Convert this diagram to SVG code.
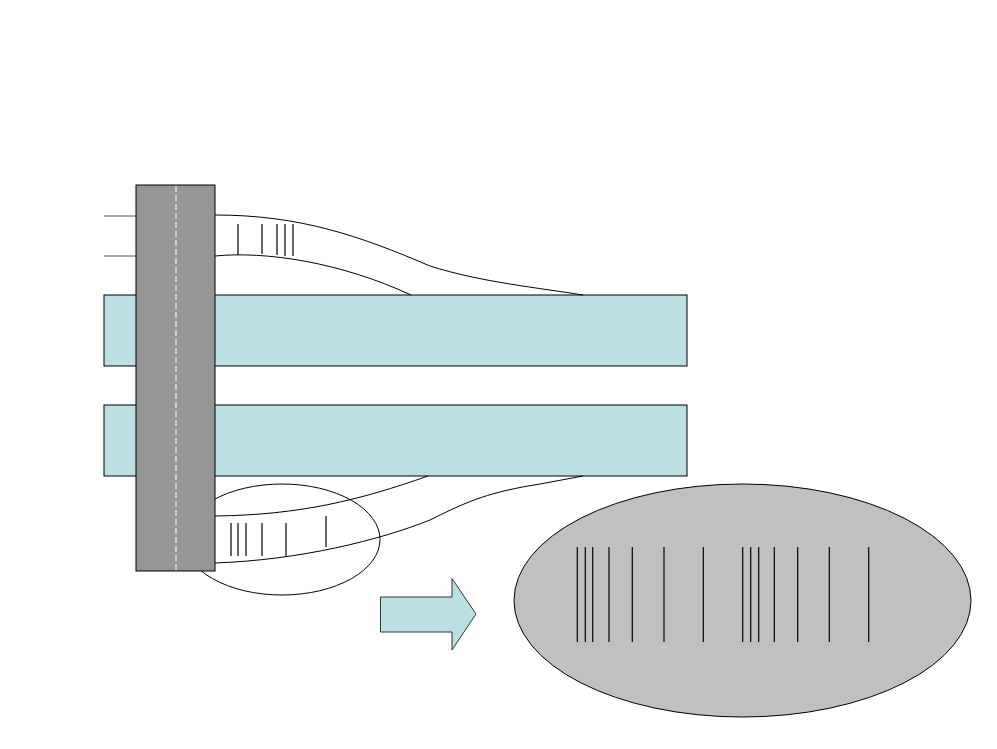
<svg xmlns="http://www.w3.org/2000/svg" width="997" height="749" viewBox="0 0 997 749">
<style>
.ln{fill:none;stroke:#000;stroke-width:1}
.tick{stroke:#000;stroke-width:1.2}
.band{fill:#BBE0E3;stroke:#000;stroke-width:1}
</style>
<rect width="997" height="749" fill="#fff"/>
<g id="wires">
<line x1="104" y1="216" x2="136" y2="216" stroke="#555" stroke-width="1"/>
<line x1="104" y1="256" x2="136" y2="256" stroke="#555" stroke-width="1"/>
</g>
<g id="band1"><rect class="band" x="104" y="295" width="583" height="71"/></g>
<g id="band2"><rect class="band" x="104" y="405" width="583" height="71"/></g>
<g id="loop"><ellipse class="ln" cx="282" cy="539.5" rx="98" ry="55.5"/></g>
<g id="pillar">
<rect x="136" y="185" width="79" height="386" fill="#969696" stroke="#000" stroke-width="1"/>
<line x1="176" y1="186" x2="176" y2="570" stroke="#fff" stroke-width="1" stroke-dasharray="6,3"/>
</g>
<g id="connectors">
<path class="ln" d="M215,215 C300,215 360,236 430,266 C480,282 540,288 583,295"/>
<path class="ln" d="M215,256 C265,251 340,262 411,295"/>
<path class="ln" d="M215,516 C300,515 360,500 428,476"/>
<path class="ln" d="M215,563 C300,560 380,540 430,520 C470,500 490,492 540,484 L583,476"/>
</g>
<g id="ticks-top">
<line class="tick" x1="238" y1="224" x2="238" y2="255"/>
<line class="tick" x1="262" y1="224" x2="262" y2="254"/>
<line class="tick" x1="277" y1="224" x2="277" y2="255"/>
<line class="tick" x1="285" y1="224" x2="285" y2="256"/>
<line class="tick" x1="293" y1="224" x2="293" y2="256"/>
</g>
<g id="ticks-bottom">
<line class="tick" x1="231" y1="523" x2="231" y2="556"/>
<line class="tick" x1="238" y1="523" x2="238" y2="556"/>
<line class="tick" x1="246" y1="523" x2="246" y2="556"/>
<line class="tick" x1="262" y1="523" x2="262" y2="556"/>
<line class="tick" x1="286" y1="523" x2="286" y2="556"/>
<line class="tick" x1="326" y1="516" x2="326" y2="547"/>
</g>
<g id="arrow">
<polygon points="380.5,597 452,597 452,578.5 476,614 452,650 452,632 380.5,632" fill="#BBE0E3" stroke="#333" stroke-width="1"/>
</g>
<g id="zoom">
<ellipse cx="742.5" cy="600.5" rx="228.5" ry="116.5" fill="#C0C0C0" stroke="#000" stroke-width="1"/>
<g class="tick">
<line x1="577.3" y1="547" x2="577.3" y2="642"/>
<line x1="585.3" y1="547" x2="585.3" y2="642"/>
<line x1="592.7" y1="547" x2="592.7" y2="642"/>
<line x1="609" y1="547" x2="609" y2="642"/>
<line x1="632.3" y1="547" x2="632.3" y2="642"/>
<line x1="664" y1="547" x2="664" y2="642"/>
<line x1="703.3" y1="547" x2="703.3" y2="642"/>
<line x1="742.7" y1="547" x2="742.7" y2="642"/>
<line x1="750.7" y1="547" x2="750.7" y2="642"/>
<line x1="758.7" y1="547" x2="758.7" y2="642"/>
<line x1="774.3" y1="547" x2="774.3" y2="642"/>
<line x1="797.7" y1="547" x2="797.7" y2="642"/>
<line x1="829.3" y1="547" x2="829.3" y2="642"/>
<line x1="868.7" y1="547" x2="868.7" y2="642"/>
</g>
</g>
</svg>
